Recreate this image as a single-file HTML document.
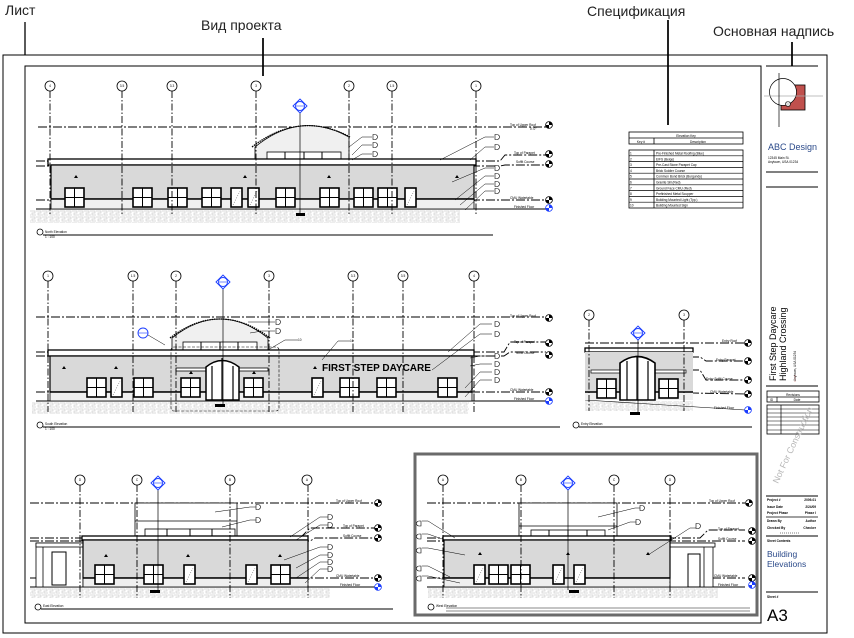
<!DOCTYPE html>
<html><head><meta charset="utf-8"><style>
html,body{margin:0;padding:0;background:#fff;}
svg{display:block;font-family:"Liberation Sans",sans-serif;}
.lbl{font-family:"Liberation Sans Narrow","Liberation Sans",sans-serif;font-size:14px;fill:#222;}
.t{font-size:3.2px;fill:#000;}
.gl{stroke:#000;stroke-width:0.9;stroke-dasharray:7 2 1.5 2;fill:none;}
.lv{stroke:#000;stroke-width:0.9;stroke-dasharray:9 2 2 2;fill:none;}
.b{fill:#fff;stroke:#000;stroke-width:0.8;}
.w{fill:#fff;stroke:#000;stroke-width:1.6;}
.wall{fill:#d9d9d9;stroke:#000;stroke-width:1.2;}
.base{fill:#efefef;stroke:#000;stroke-width:0.8;}
</style></head><body>
<svg width="854" height="638" viewBox="0 0 854 638" xmlns="http://www.w3.org/2000/svg">
<defs>
<pattern id="h" width="12" height="6" patternUnits="userSpaceOnUse">
<rect width="12" height="6" fill="#fff"/>
<path d="M0 1H5V3H2V5H7M6 1H11V3H8V5H12" stroke="#cfcfcf" stroke-width="0.7" fill="none"/>
</pattern>
<g id="win"><rect x="0" y="0" width="19" height="19" class="w"/><path d="M9.5 0V19M0 9.5H19" stroke="#000" stroke-width="1"/></g>
<g id="door"><rect x="0" y="0" width="11" height="19" class="w"/><path d="M2 17L9 3" stroke="#000" stroke-width="0.4" stroke-dasharray="1 1.5"/></g>
<g id="tag"><circle cx="0" cy="0" r="3.4" fill="#fff" stroke="#000" stroke-width="0.8"/><path d="M0 -3.4A3.4 3.4 0 0 1 3.4 0H0Z M0 3.4A3.4 3.4 0 0 1 -3.4 0H0Z" fill="#000"/></g>
<g id="tagb"><circle cx="0" cy="0" r="3.4" fill="#fff" stroke="#1a3cff" stroke-width="0.8"/><path d="M0 -3.4A3.4 3.4 0 0 1 3.4 0H0Z M0 3.4A3.4 3.4 0 0 1 -3.4 0H0Z" fill="#1a3cff"/></g>
<g id="sec"><path d="M-7 0L0 -7L7 0L0 7Z" fill="#fff" stroke="#1a3cff" stroke-width="0.9"/><circle r="4.5" fill="#fff" stroke="#1a3cff" stroke-width="0.9"/><path d="M-4.5 0H4.5" stroke="#1a3cff" stroke-width="0.6"/></g>
<g id="key"><path d="M0 -2.5H2A2.5 2.5 0 0 1 2 2.5H0Z" fill="#fff" stroke="#000" stroke-width="0.6"/></g>
</defs>

<text x="5" y="15" class="lbl">Лист</text>
<line x1="25" y1="22" x2="25" y2="55" stroke="#222" stroke-width="1.5"/>
<text x="201" y="30" class="lbl">Вид проекта</text>
<line x1="263" y1="38" x2="263" y2="76" stroke="#222" stroke-width="2"/>
<text x="587" y="16" class="lbl">Спецификация</text>
<line x1="668" y1="20" x2="668" y2="125" stroke="#222" stroke-width="2"/>
<text x="713" y="36" class="lbl">Основная надпись</text>
<line x1="792" y1="42" x2="792" y2="66" stroke="#222" stroke-width="2"/>

<rect x="3" y="55" width="824" height="578" fill="none" stroke="#000" stroke-width="1"/>
<rect x="25" y="66" width="736" height="557" fill="none" stroke="#000" stroke-width="1"/>

<!-- NORTH -->
<g>
<rect x="30" y="210" width="430" height="13" fill="url(#h)"/>
<line x1="38" y1="127" x2="546" y2="127" class="lv"/>
<path d="M36 161H500L505 155H546" class="lv"/>
<path d="M36 166H500L505 165H546" class="lv"/>
<line x1="36" y1="200" x2="546" y2="200" class="lv"/>
<line x1="36" y1="209" x2="546" y2="209" stroke="#000" stroke-width="0.9"/>
<path d="M255 160V147Q300 110 349 137V160Z" fill="#f0f0f0" stroke="#000" stroke-width="0.8"/>
<path d="M252 147Q300 110 350 137" fill="none" stroke="#000" stroke-width="1.3" stroke-dasharray="1.5 0.8"/>
<rect x="267" y="152" width="74" height="8" class="b" stroke-width="1"/>
<path d="M285 152V160M304 152V160M322 152V160" stroke="#000" stroke-width="1"/>
<rect x="48" y="159" width="428" height="6" fill="#fff" stroke="#000" stroke-width="1.3"/>
<rect x="51" y="165" width="423" height="34" class="wall"/>
<rect x="51" y="199" width="423" height="10" class="base"/>
<line x1="51" y1="199" x2="474" y2="199" stroke="#000" stroke-width="1.6"/>
<use href="#win" x="65" y="188"/><use href="#win" x="133" y="188"/><use href="#win" x="168" y="188"/><use href="#win" x="202" y="188"/>
<use href="#door" x="231" y="188"/><use href="#door" x="248" y="188"/>
<use href="#win" x="276" y="188"/><use href="#win" x="320" y="188"/><use href="#win" x="354" y="188"/><use href="#win" x="378" y="188"/>
<use href="#door" x="405" y="188"/>
<path d="M74 178l2 -3 2 3z M243 178l2 -3 2 3z M327 178l2 -3 2 3z M455 178l2 -3 2 3z" fill="#000"/>
<g class="gl"><path d="M50 91V215M122 91V215M172 91V215M256 91V215M349 91V215M392 91V215M476 91V215"/></g>
<circle cx="50" cy="86" r="5" class="b"/><circle cx="122" cy="86" r="5" class="b"/><circle cx="172" cy="86" r="5" class="b"/><circle cx="256" cy="86" r="5" class="b"/><circle cx="349" cy="86" r="5" class="b"/><circle cx="392" cy="86" r="5" class="b"/><circle cx="476" cy="86" r="5" class="b"/>
<text x="50" y="87.2" class="t" text-anchor="middle">4</text><text x="122" y="87.2" class="t" text-anchor="middle">3.5</text><text x="172" y="87.2" class="t" text-anchor="middle">3.3</text><text x="256" y="87.2" class="t" text-anchor="middle">3</text><text x="349" y="87.2" class="t" text-anchor="middle">2</text><text x="392" y="87.2" class="t" text-anchor="middle">1.5</text><text x="476" y="87.2" class="t" text-anchor="middle">1</text>
<line x1="300" y1="112" x2="300" y2="213" stroke="#000" stroke-width="0.7"/>
<rect x="296" y="213" width="9" height="3" fill="#000"/>
<use href="#sec" x="300" y="106"/>
<path d="M349 147L362 137H372M352 155L362 145H372M352 160L362 154H372M440 160L485 137H494M470 160L485 147H494M452 182L485 168H494M455 200L485 176H494M460 205L485 184H494M465 210L485 191H494" fill="none" stroke="#000" stroke-width="0.5"/>
<use href="#key" x="373" y="137"/><use href="#key" x="373" y="145"/><use href="#key" x="373" y="154"/>
<use href="#key" x="495" y="137"/><use href="#key" x="495" y="147"/><use href="#key" x="495" y="168"/><use href="#key" x="495" y="176"/><use href="#key" x="495" y="184"/><use href="#key" x="495" y="191"/>
<text x="510" y="126" class="t">Top of Upper Roof</text><text x="530" y="130" class="t">0'-0"</text><use href="#tag" x="549" y="125"/>
<text x="514" y="154" class="t">Top of Parapet</text><use href="#tag" x="549" y="154"/>
<text x="516" y="163" class="t">Soffit Course</text><use href="#tag" x="549" y="164"/>
<text x="510" y="199" class="t">CMU Watertable</text><use href="#tag" x="549" y="200"/>
<text x="514" y="208" class="t" fill="#1a3cff">Finished Floor</text><use href="#tagb" x="549" y="208"/>
<circle cx="40" cy="232" r="3" class="b"/><line x1="43" y1="235" x2="493" y2="235" stroke="#000" stroke-width="1"/>
<text x="45" y="233" class="t">North Elevation</text><text x="45" y="238" class="t">1 : 100</text>
</g>

<!-- schedule -->
<g>
<rect x="629" y="132" width="114" height="12" fill="#fff" stroke="#000" stroke-width="0.8"/>
<line x1="629" y1="138" x2="743" y2="138" stroke="#000" stroke-width="0.8"/>
<line x1="654" y1="138" x2="654" y2="144" stroke="#000" stroke-width="0.8"/>
<text x="686" y="136.8" class="t" text-anchor="middle">Elevation Key</text>
<text x="641" y="142.8" class="t" text-anchor="middle">Key #</text><text x="698" y="142.8" class="t" text-anchor="middle">Description</text>
<rect x="629" y="150" width="114" height="58" fill="#fff" stroke="#000" stroke-width="0.8"/>
<line x1="654" y1="150" x2="654" y2="208" stroke="#000" stroke-width="0.8"/>
<path d="M629 155.8H743M629 161.6H743M629 167.4H743M629 173.2H743M629 179H743M629 184.8H743M629 190.6H743M629 196.4H743M629 202.2H743" stroke="#000" stroke-width="0.7"/>
<g class="t">
<text x="630" y="154.5">1</text><text x="656" y="154.5">Pre-Finished Metal Roofing (Blue)</text>
<text x="630" y="160.3">2</text><text x="656" y="160.3">EIFS (Beige)</text>
<text x="630" y="166.1">3</text><text x="656" y="166.1">Pre-Cast Stone Parapet Cap</text>
<text x="630" y="171.9">4</text><text x="656" y="171.9">Brick Soldier Course</text>
<text x="630" y="177.7">5</text><text x="656" y="177.7">Common Bond Brick (Burgundy)</text>
<text x="630" y="183.5">6</text><text x="656" y="183.5">Granite Sill (Red)</text>
<text x="630" y="189.3">7</text><text x="656" y="189.3">Ground Face CMU (Red)</text>
<text x="630" y="195.1">8</text><text x="656" y="195.1">Prefinished Metal Scupper</text>
<text x="630" y="200.9">9</text><text x="656" y="200.9">Building Mounted Light (Typ.)</text>
<text x="630" y="206.7">10</text><text x="656" y="206.7">Building Mounted Sign</text>
</g>
</g>

<!-- SOUTH -->
<g>
<rect x="32" y="402" width="437" height="12" fill="url(#h)"/>
<line x1="36" y1="317" x2="546" y2="317" class="lv"/>
<path d="M36 352H504L510 342H546" class="lv"/>
<path d="M36 356H504L510 352H546" class="lv"/>
<line x1="36" y1="392" x2="546" y2="392" class="lv"/>
<line x1="36" y1="401" x2="546" y2="401" stroke="#000" stroke-width="0.9"/>
<path d="M172 350V338Q220 300 268 338V350Z" fill="#f0f0f0" stroke="#000" stroke-width="0.8"/>
<path d="M170 338Q220 300 270 338" fill="none" stroke="#000" stroke-width="1.3" stroke-dasharray="1.5 0.8"/>
<rect x="183" y="342" width="74" height="9" class="b" stroke-width="1"/>
<path d="M201 342V351M220 342V351M238 342V351" stroke="#000" stroke-width="1"/>
<rect x="48" y="350" width="426" height="6" fill="#fff" stroke="#000" stroke-width="1.3"/>
<rect x="50" y="356" width="422" height="36" class="wall"/>
<rect x="50" y="392" width="422" height="9" class="base"/>
<line x1="50" y1="392" x2="472" y2="392" stroke="#000" stroke-width="1.6"/>
<rect x="176" y="368" width="92" height="3" fill="#fff" stroke="#000" stroke-width="0.8"/>
<path d="M206 400V367Q222 354 239 367V400Z" fill="#fff" stroke="#000" stroke-width="1.5"/>
<path d="M212 400V366M233 400V366M222 400V358" stroke="#000" stroke-width="1.2"/>
<use href="#win" x="87" y="378"/><use href="#win" x="134" y="378"/><use href="#win" x="181" y="378"/><use href="#win" x="244" y="378"/>
<use href="#win" x="340" y="378"/><use href="#win" x="377" y="378"/><use href="#win" x="438" y="378"/>
<use href="#door" x="111" y="378"/><use href="#door" x="312" y="378"/>
<path d="M62 369l2 -3 2 3z M114 369l2 -3 2 3z M189 374l2 -3 2 3z M252 374l2 -3 2 3z M313 369l2 -3 2 3z" fill="#000"/>
<text x="322" y="371" font-size="10" font-weight="bold" fill="#000">FIRST STEP DAYCARE</text>
<rect x="171" y="347" width="108" height="64" rx="3" fill="none" stroke="#000" stroke-width="0.6" stroke-dasharray="3 1.5"/>
<g class="gl"><path d="M48 281V412M133 281V412M176 281V412M269 281V412M353 281V412M403 281V412M474 281V412"/></g>
<circle cx="48" cy="276" r="5" class="b"/><circle cx="133" cy="276" r="5" class="b"/><circle cx="176" cy="276" r="5" class="b"/><circle cx="269" cy="276" r="5" class="b"/><circle cx="353" cy="276" r="5" class="b"/><circle cx="403" cy="276" r="5" class="b"/><circle cx="474" cy="276" r="5" class="b"/>
<text x="48" y="277.2" class="t" text-anchor="middle">1</text><text x="133" y="277.2" class="t" text-anchor="middle">1.5</text><text x="176" y="277.2" class="t" text-anchor="middle">2</text><text x="269" y="277.2" class="t" text-anchor="middle">3</text><text x="353" y="277.2" class="t" text-anchor="middle">3.3</text><text x="403" y="277.2" class="t" text-anchor="middle">3.5</text><text x="474" y="277.2" class="t" text-anchor="middle">4</text>
<line x1="223" y1="288" x2="223" y2="404" stroke="#000" stroke-width="0.7"/>
<rect x="215" y="404" width="10" height="3" fill="#000"/>
<use href="#sec" x="223" y="282"/>
<circle cx="143" cy="333" r="5" fill="#fff" stroke="#1a3cff" stroke-width="0.9"/><line x1="138" y1="333" x2="148" y2="333" stroke="#1a3cff" stroke-width="0.6"/>
<path d="M148 335L165 345M248 322L262 322H275M250 333L262 331H275M268 350L285 340H298M322 360L338 341H350M448 352L480 324H492M432 370L480 334H492M470 358L480 356H492M470 366L480 364H492M465 388L480 372H492M465 397L480 380H492" fill="none" stroke="#000" stroke-width="0.5"/>
<use href="#key" x="276" y="322"/><use href="#key" x="276" y="331"/><use href="#key" x="495" y="324"/><use href="#key" x="495" y="334"/><use href="#key" x="495" y="356"/><use href="#key" x="495" y="364"/><use href="#key" x="495" y="372"/><use href="#key" x="495" y="380"/>
<text x="298" y="341" class="t">10</text><text x="350" y="342" class="t">10</text>
<text x="510" y="317" class="t">Top of Upper Roof</text><use href="#tag" x="549" y="318"/>
<text x="514" y="343" class="t">Top of Parapet</text><use href="#tag" x="549" y="343"/>
<text x="516" y="354" class="t">Soffit Course</text><use href="#tag" x="549" y="355"/>
<text x="510" y="391" class="t">CMU Watertable</text><use href="#tag" x="549" y="392"/>
<text x="514" y="400" class="t" fill="#1a3cff">Finished Floor</text><use href="#tagb" x="549" y="401"/>
<circle cx="40" cy="425" r="3" class="b"/><line x1="43" y1="427" x2="560" y2="427" stroke="#000" stroke-width="1"/>
<text x="45" y="425" class="t">South Elevation</text><text x="45" y="430" class="t">1 : 100</text>
</g>

<!-- ENTRY -->
<g>
<rect x="585" y="401" width="108" height="10" fill="url(#h)"/>
<path d="M585 343H700L705 343H745" class="lv"/>
<path d="M585 357H700L706 361H745" class="lv"/>
<path d="M585 370H700L706 380H745" class="lv"/>
<line x1="585" y1="391" x2="745" y2="394" class="lv"/>
<line x1="585" y1="400" x2="745" y2="410" stroke="#000" stroke-width="0.6"/>
<rect x="585" y="348" width="108" height="4" fill="#fff" stroke="#000" stroke-width="1.3"/>
<rect x="585" y="352" width="108" height="40" fill="#d9d9d9"/>
<rect x="585" y="392" width="108" height="8" fill="#efefef"/>
<line x1="585" y1="392" x2="693" y2="392" stroke="#000" stroke-width="1.5"/>
<rect x="591" y="370" width="95" height="3" fill="#fff" stroke="#000" stroke-width="0.7"/>
<path d="M620 400V363Q637 350 655 363V400Z" fill="#fff" stroke="#000" stroke-width="1.6"/>
<path d="M627 400V361M648 400V361M637 400V356" stroke="#000" stroke-width="1.2"/>
<use href="#win" x="597" y="379"/><use href="#win" x="659" y="379"/>
<g class="gl"><path d="M589 320V411M684 320V411"/></g>
<circle cx="589" cy="315" r="5" class="b"/><circle cx="684" cy="315" r="5" class="b"/>
<text x="589" y="316.2" class="t" text-anchor="middle">2</text><text x="684" y="316.2" class="t" text-anchor="middle">3</text>
<line x1="638" y1="338" x2="638" y2="412" stroke="#000" stroke-width="0.7"/>
<rect x="630" y="412" width="10" height="3" fill="#000"/>
<use href="#sec" x="638" y="333"/>
<text x="722" y="342" class="t">Entry Roof</text><use href="#tag" x="748" y="343"/>
<text x="716" y="361" class="t">Entry Parapet</text><use href="#tag" x="748" y="361"/>
<text x="706" y="380" class="t">Entry Soffit Course</text><use href="#tag" x="748" y="380"/>
<text x="710" y="393" class="t">CMU Watertable</text><use href="#tag" x="748" y="394"/>
<text x="714" y="409" class="t" fill="#1a3cff">Finished Floor</text><use href="#tagb" x="748" y="410"/>
<circle cx="576" cy="425" r="3" class="b"/><line x1="579" y1="427" x2="752" y2="427" stroke="#000" stroke-width="1"/>
<text x="581" y="425" class="t">Entry Elevation</text>
</g>

<!-- BOTTOM LEFT -->
<g>
<rect x="30" y="588" width="300" height="10" fill="url(#h)"/>
<line x1="30" y1="503" x2="375" y2="503" class="lv"/>
<path d="M30 538H300L310 528H375" class="lv"/>
<path d="M30 541H310L315 538H375" class="lv"/>
<line x1="30" y1="578" x2="375" y2="578" class="lv"/>
<line x1="30" y1="587" x2="375" y2="587" stroke="#000" stroke-width="0.9"/>
<rect x="135" y="503" width="102" height="35" fill="#fff" stroke="#000" stroke-width="0.8"/>
<rect x="145" y="529" width="90" height="9" class="b" stroke-width="1"/>
<path d="M167 529V538M190 529V538M212 529V538" stroke="#000" stroke-width="1"/>
<line x1="135" y1="521" x2="237" y2="521" stroke="#000" stroke-width="0.8"/>
<rect x="36" y="543" width="47" height="44" fill="#fff" stroke="#000" stroke-width="0.8"/>
<rect x="36" y="543" width="49" height="4" fill="#fff" stroke="#000" stroke-width="0.8"/>
<rect x="52" y="552" width="14" height="33" fill="#fff" stroke="#000" stroke-width="1"/>
<line x1="43" y1="547" x2="43" y2="587" stroke="#000" stroke-width="0.8"/>
<rect x="82" y="536" width="226" height="4" fill="#fff" stroke="#000" stroke-width="1.3"/>
<rect x="83" y="540" width="225" height="38" class="wall"/>
<rect x="83" y="578" width="225" height="9" class="base"/>
<line x1="83" y1="578" x2="308" y2="578" stroke="#000" stroke-width="1.5"/>
<use href="#win" x="95" y="565"/><use href="#win" x="144" y="565"/><use href="#win" x="271" y="565"/>
<use href="#door" x="184" y="565"/><use href="#door" x="246" y="565"/>
<path d="M104 557l2 -3 2 3z M186 557l2 -3 2 3z M278 557l2 -3 2 3z" fill="#000"/>
<g class="gl"><path d="M80 485V598M137 485V598M230 485V598M308 485V598"/></g>
<circle cx="80" cy="480" r="5" class="b"/><circle cx="137" cy="480" r="5" class="b"/><circle cx="230" cy="480" r="5" class="b"/><circle cx="307" cy="480" r="5" class="b"/>
<text x="80" y="481.2" class="t" text-anchor="middle">D</text><text x="137" y="481.2" class="t" text-anchor="middle">C</text><text x="230" y="481.2" class="t" text-anchor="middle">B</text><text x="307" y="481.2" class="t" text-anchor="middle">A</text>
<line x1="158" y1="489" x2="158" y2="590" stroke="#000" stroke-width="0.7"/>
<rect x="150" y="590" width="10" height="3" fill="#000"/>
<use href="#sec" x="158" y="483"/>
<path d="M215 512L250 507H256M222 527L250 520H256M290 537L320 517H328M296 540L320 525H328M284 560L320 547H328M296 568L320 555H328M296 578L320 562H328M305 583L320 569H328" fill="none" stroke="#000" stroke-width="0.5"/>
<use href="#key" x="256" y="507"/><use href="#key" x="256" y="520"/><use href="#key" x="328" y="517"/><use href="#key" x="328" y="525"/><use href="#key" x="328" y="547"/><use href="#key" x="328" y="555"/><use href="#key" x="328" y="562"/><use href="#key" x="328" y="569"/>
<text x="336" y="502" class="t">Top of Upper Roof</text><use href="#tag" x="378" y="503"/>
<text x="343" y="527" class="t">Top of Parapet</text><use href="#tag" x="378" y="528"/>
<text x="343" y="537" class="t">Soffit Course</text><use href="#tag" x="378" y="538"/>
<text x="336" y="577" class="t">CMU Watertable</text><use href="#tag" x="378" y="578"/>
<text x="340" y="586" class="t" fill="#1a3cff">Finished Floor</text><use href="#tagb" x="378" y="587"/>
<circle cx="38" cy="607" r="3" class="b"/><line x1="41" y1="609" x2="393" y2="609" stroke="#000" stroke-width="1"/>
<text x="43" y="607" class="t">East Elevation</text>
</g>

<!-- BOTTOM RIGHT -->
<g>
<rect x="428" y="588" width="290" height="10" fill="url(#h)"/>
<line x1="427" y1="503" x2="745" y2="503" class="lv"/>
<path d="M427 538H700L708 530H745" class="lv"/>
<path d="M427 541H708L712 541H745" class="lv"/>
<line x1="427" y1="578" x2="745" y2="578" class="lv"/>
<line x1="427" y1="587" x2="745" y2="587" stroke="#000" stroke-width="0.9"/>
<rect x="519" y="503" width="98" height="35" fill="#fff" stroke="#000" stroke-width="0.8"/>
<rect x="531" y="530" width="74" height="8" class="b" stroke-width="1"/>
<path d="M549 530V538M568 530V538M587 530V538" stroke="#000" stroke-width="1"/>
<line x1="519" y1="526" x2="617" y2="526" stroke="#000" stroke-width="0.8"/>
<rect x="670" y="543" width="43" height="44" fill="#fff" stroke="#000" stroke-width="0.8"/>
<rect x="668" y="543" width="47" height="4" fill="#fff" stroke="#000" stroke-width="0.8"/>
<rect x="688" y="554" width="12" height="33" fill="#fff" stroke="#000" stroke-width="1"/>
<line x1="704" y1="547" x2="704" y2="587" stroke="#000" stroke-width="0.8"/>
<rect x="443" y="536" width="228" height="4" fill="#fff" stroke="#000" stroke-width="1.3"/>
<rect x="444" y="540" width="226" height="38" class="wall"/>
<rect x="444" y="578" width="226" height="9" class="base"/>
<line x1="444" y1="578" x2="670" y2="578" stroke="#000" stroke-width="1.5"/>
<use href="#win" x="489" y="565"/><use href="#win" x="511" y="565"/>
<use href="#door" x="474" y="565"/><use href="#door" x="553" y="565"/><use href="#door" x="574" y="565"/>
<path d="M478 555l2 -3 2 3z M566 555l2 -3 2 3z M646 555l2 -3 2 3z" fill="#000"/>
<g class="gl"><path d="M443 485V598M521 485V598M614 485V598M670 485V598"/></g>
<circle cx="443" cy="480" r="5" class="b"/><circle cx="521" cy="480" r="5" class="b"/><circle cx="614" cy="480" r="5" class="b"/><circle cx="670" cy="480" r="5" class="b"/>
<text x="443" y="481.2" class="t" text-anchor="middle">A</text><text x="521" y="481.2" class="t" text-anchor="middle">B</text><text x="614" y="481.2" class="t" text-anchor="middle">C</text><text x="670" y="481.2" class="t" text-anchor="middle">D</text>
<line x1="568" y1="489" x2="568" y2="590" stroke="#000" stroke-width="0.7"/>
<rect x="569" y="590" width="10" height="3" fill="#000"/>
<use href="#sec" x="568" y="483"/>
<path d="M598 517L635 508H640M608 530L630 522H636M648 555L690 528H696M422 521H428L455 538M422 534H428L445 540M422 548H428L465 555M422 566H428L450 577M422 576H428L460 583" fill="none" stroke="#000" stroke-width="0.5"/>
<use href="#key" x="640" y="508"/><use href="#key" x="636" y="522"/><use href="#key" x="696" y="526"/>
<path d="M421 521h-2a2.5 2.5 0 0 0 0 5h2zM421 534h-2a2.5 2.5 0 0 0 0 5h2zM421 548h-2a2.5 2.5 0 0 0 0 5h2zM421 566h-2a2.5 2.5 0 0 0 0 5h2zM421 576h-2a2.5 2.5 0 0 0 0 5h2z" fill="#fff" stroke="#000" stroke-width="0.6"/>
<text x="709" y="502" class="t">Top of Upper Roof</text><use href="#tag" x="749" y="503"/>
<text x="718" y="530" class="t">Top of Parapet</text><use href="#tag" x="752" y="531"/>
<text x="718" y="540" class="t">Soffit Course</text><use href="#tag" x="752" y="541"/>
<text x="714" y="577" class="t">CMU Watertable</text><use href="#tag" x="752" y="578"/>
<text x="718" y="586" class="t" fill="#1a3cff">Finished Floor</text><use href="#tagb" x="752" y="585"/>
<circle cx="431" cy="607" r="3" class="b"/>
<line x1="446" y1="608" x2="750" y2="608" stroke="#888" stroke-width="1"/><line x1="446" y1="611" x2="750" y2="611" stroke="#888" stroke-width="1"/>
<text x="436" y="607" class="t">West Elevation</text>
<rect x="415" y="454" width="342" height="161" fill="none" stroke="#6a6a6a" stroke-width="3"/>
</g>

<!-- TITLE BLOCK -->
<g>
<line x1="766" y1="66" x2="818" y2="66" stroke="#000" stroke-width="1"/>
<rect x="781" y="85" width="24" height="25" fill="#c0504d" stroke="#000" stroke-width="0.8"/>
<circle cx="783" cy="92" r="13.5" fill="#fff" stroke="#000" stroke-width="0.7"/>
<circle cx="788" cy="104" r="2.5" fill="#ddd" stroke="#000" stroke-width="0.6"/>
<line x1="764" y1="96" x2="823" y2="96" stroke="#aaa" stroke-width="0.7"/>
<line x1="779" y1="73" x2="779" y2="127" stroke="#000" stroke-width="0.7"/>
<text x="768" y="150" font-size="9" fill="#2b4a8a">ABC Design</text>
<text x="768" y="159" class="t">12345 Main St.</text><text x="768" y="163" class="t">Anytown, USA 01234</text>
<line x1="766" y1="172" x2="818" y2="172" stroke="#000" stroke-width="1"/>
<line x1="766" y1="187" x2="818" y2="187" stroke="#000" stroke-width="1"/>
<text transform="translate(776 381) rotate(-90)" font-size="9" fill="#000">First Step Daycare</text>
<text transform="translate(786 381) rotate(-90)" font-size="9" fill="#000">Highland Crossing</text>
<text transform="translate(796 381) rotate(-90)" font-size="3.2" fill="#000">Anytown, USA 01234</text>
<line x1="795" y1="382" x2="795" y2="375" stroke="#c0504d" stroke-width="0.6" stroke-dasharray="0.8 0.8"/>
<line x1="766" y1="386" x2="818" y2="386" stroke="#000" stroke-width="1"/>
<rect x="767" y="391" width="52" height="11" fill="#fff" stroke="#000" stroke-width="0.8"/>
<line x1="767" y1="397" x2="819" y2="397" stroke="#000" stroke-width="0.7"/><line x1="777" y1="397" x2="777" y2="402" stroke="#000" stroke-width="0.7"/>
<text x="793" y="396" class="t" text-anchor="middle">Revisions</text><text x="770" y="401" class="t">ID</text><text x="797" y="401" class="t" text-anchor="middle">Date</text>
<rect x="767" y="405" width="52" height="29" fill="#fff" stroke="#000" stroke-width="0.8"/>
<line x1="781" y1="405" x2="781" y2="434" stroke="#000" stroke-width="0.7"/>
<path d="M767 409H819M767 413H819M767 417H819M767 421H819M767 425H819M767 430H819" stroke="#000" stroke-width="0.6"/>
<text transform="translate(778 484) rotate(-65)" font-size="9" fill="#b8b8b8">Not For Construction</text>
<line x1="766" y1="496" x2="818" y2="496" stroke="#000" stroke-width="1"/>
<g class="t" font-weight="bold">
<text x="767" y="501">Project #</text><text x="816" y="501" text-anchor="end">2009-01</text>
<text x="767" y="508">Issue Date</text><text x="816" y="508" text-anchor="end">2/24/09</text>
<text x="767" y="514">Project Phase</text><text x="816" y="514" text-anchor="end">Phase I</text>
</g>
<line x1="766" y1="517" x2="818" y2="517" stroke="#000" stroke-width="0.8"/>
<g class="t" font-weight="bold">
<text x="767" y="522">Drawn By</text><text x="816" y="522" text-anchor="end">Author</text>
<text x="767" y="529">Checked By</text><text x="816" y="529" text-anchor="end">Checker</text>
</g>
<line x1="780" y1="533" x2="800" y2="533" stroke="#000" stroke-width="0.5" stroke-dasharray="1 1"/>
<line x1="766" y1="536" x2="818" y2="536" stroke="#000" stroke-width="1"/>
<text x="767" y="542" class="t" font-weight="bold">Sheet Contents</text>
<text x="767" y="557" font-size="8.5" fill="#2b4a8a">Building</text>
<text x="767" y="567" font-size="8.5" fill="#2b4a8a">Elevations</text>
<line x1="766" y1="592" x2="818" y2="592" stroke="#000" stroke-width="1"/>
<text x="767" y="598" class="t" font-weight="bold">Sheet #</text>
<text x="767" y="621" font-size="17" fill="#000">A3</text>
</g>
</svg>
</body></html>
